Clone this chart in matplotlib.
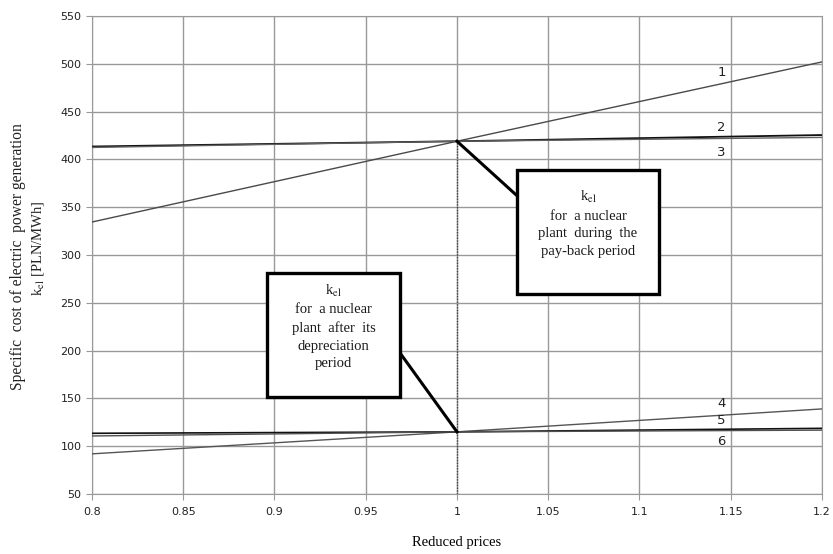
import numpy as np
import matplotlib
matplotlib.use('Agg')
import matplotlib.pyplot as plt

# Data (reduced prices -> specific cost, PLN/MWh)
x = [0.8, 1.0, 1.2]
line1 = [334.5, 419, 502]
line2 = [413.5, 419, 425.5]
line3 = [412.5, 419, 423]
line4 = [92, 115, 139]
line5 = [113.5, 115, 118.7]
line6 = [110.7, 115, 116.8]

series = [line1, line2, line3, line4, line5, line6]
colors = ['#4a4a4a', '#111111', '#606060', '#555555', '#111111', '#505050']
widths = [1.0, 1.3, 1.0, 1.0, 1.2, 1.0]
labels = ['1', '2', '3', '4', '5', '6']
label_y = [491, 433, 407, 145, 127, 105]

xticks = [0.8, 0.85, 0.9, 0.95, 1.0, 1.05, 1.1, 1.15, 1.2]
xticklabels = ['0.8', '0.85', '0.9', '0.95', '1', '1.05', '1.1', '1.15', '1.2']
yticks = list(range(50, 551, 50))

plt.rcParams['mathtext.fontset'] = 'stix'

fig = plt.figure(figsize=(8.33, 5.54), dpi=100)
ax = fig.add_axes([0.1104, 0.1083, 0.8764, 0.8628])

for ys, c, lw in zip(series, colors, widths):
    ax.plot(x, ys, color=c, lw=lw, zorder=3)

for lab, ly in zip(labels, label_y):
    ax.text(1.145, ly, lab, fontsize=9.5, ha='center', va='center', color='#222222')

# dotted marker at x = 1
ax.plot([1.0, 1.0], [50, 419], color='#444444', lw=1, linestyle=(0, (1, 1)), zorder=2)

ax.set_xlim(0.8, 1.2)
ax.set_ylim(50, 550)
ax.set_xticks(xticks)
ax.set_xticklabels(xticklabels)
ax.set_yticks(yticks)
ax.grid(True, color='#999999', lw=1)
for s in ax.spines.values():
    s.set_color('#999999')
ax.tick_params(axis='both', colors='#999999', labelcolor='#222222', labelsize=8, length=4)
ax.tick_params(axis='x', pad=5)

serif = 'Liberation Serif'
ax.set_xlabel('Reduced prices', family=serif, fontsize=10.5, labelpad=14)

# y label as two separately placed lines
fig.text(18 / 833, 1 - 257 / 554, 'Specific  cost of electric  power generation',
         rotation=90, ha='center', va='center', family=serif, fontsize=11.2, color='#222222')
fig.text(38 / 833, 1 - 248 / 554, r'k$_{\mathrm{el}}$ [PLN/MWh]',
         rotation=90, ha='center', va='center', family=serif, fontsize=10.5, color='#222222')

# callout boxes
def callout(x0, x1, y0, y1, txt, p_from, p_to):
    ax.plot([p_from[0], p_to[0]], [p_from[1], p_to[1]], color='black', lw=2.2, zorder=4)
    rect = plt.Rectangle((x0, y0), x1 - x0, y1 - y0, facecolor='white',
                         edgecolor='black', lw=2.4, zorder=5)
    ax.add_patch(rect)
    ax.text((x0 + x1) / 2, (y0 + y1) / 2 + 9, txt, ha='center', va='center',
            family=serif, fontsize=10.5, linespacing=1.45, zorder=6, color='#1a1a1a')

callout(1.0329, 1.1107, 259, 389,
        r'k$_{\mathrm{el}}$' + '\nfor  a nuclear\nplant  during  the\npay-back period',
        (1.0, 419), (1.0329, 362))
callout(0.8959, 0.9688, 151.5, 281,
        r'k$_{\mathrm{el}}$' + '\nfor  a nuclear\nplant  after  its\ndepreciation\nperiod',
        (0.9688, 197.5), (1.0, 115))

fig.savefig('out.png', dpi=100)
